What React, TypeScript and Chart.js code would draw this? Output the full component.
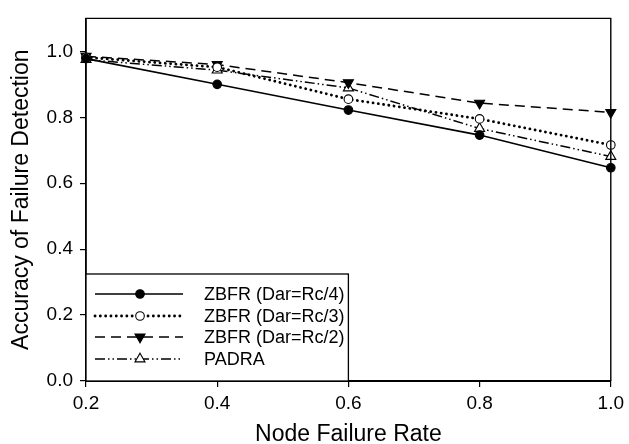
import React, { useEffect, useRef } from "react";
import { Chart, registerables } from "chart.js";

Chart.register(...registerables);

const xValues = [0.2, 0.4, 0.6, 0.8, 1.0];
const zbfrRc4 = [0.978, 0.9, 0.822, 0.746, 0.647];
const zbfrRc3 = [0.982, 0.952, 0.855, 0.795, 0.716];
const zbfrRc2 = [0.985, 0.96, 0.905, 0.843, 0.815];
const padra = [0.975, 0.943, 0.889, 0.766, 0.681];
const yTicks = [0, 0.2, 0.4, 0.6, 0.8, 1.0];
const seriesLabels = ["ZBFR (Dar=Rc/4)", "ZBFR (Dar=Rc/3)", "ZBFR (Dar=Rc/2)", "PADRA"];
const xTitle = "Node Failure Rate";
const yTitle = "Accuracy of Failure Detection";

const FONT = "'Liberation Sans', Arial, Helvetica, sans-serif";

type Style = {
  dash: number[];
  width: number;
  cap: CanvasLineCap;
  marker: "circle" | "triangle";
  rotation: number;
  radius: number;
  fill: string;
};

const styles: Style[] = [
  { dash: [], width: 1.6, cap: "butt", marker: "circle", rotation: 0, radius: 4.3, fill: "#000" },
  { dash: [0.1, 5.2], width: 2.8, cap: "round", marker: "circle", rotation: 0, radius: 4.3, fill: "#fff" },
  { dash: [10, 6], width: 1.5, cap: "butt", marker: "triangle", rotation: 180, radius: 5.8, fill: "#000" },
  { dash: [10, 3, 1.5, 3, 1.5, 3], width: 1.5, cap: "butt", marker: "triangle", rotation: 0, radius: 5.8, fill: "#fff" },
];

const seriesValues = [zbfrRc4, zbfrRc3, zbfrRc2, padra];

function drawMarker(ctx: CanvasRenderingContext2D, s: Style, x: number, y: number) {
  ctx.save();
  ctx.setLineDash([]);
  ctx.lineWidth = 1.1;
  ctx.strokeStyle = "#000";
  ctx.fillStyle = s.fill;
  ctx.beginPath();
  if (s.marker === "circle") {
    ctx.arc(x, y, s.radius, 0, Math.PI * 2);
  } else {
    let rad = (s.rotation * Math.PI) / 180;
    for (let i = 0; i < 3; i++) {
      const px = x + Math.sin(rad) * s.radius;
      const py = y - Math.cos(rad) * s.radius;
      if (i === 0) ctx.moveTo(px, py);
      else ctx.lineTo(px, py);
      rad += (2 * Math.PI) / 3;
    }
    ctx.closePath();
  }
  ctx.fill();
  ctx.stroke();
  ctx.restore();
}

const framePlugin = {
  id: "frameAndLegend",
  afterDraw(chart: any) {
    const { ctx, chartArea } = chart;
    const { left, right, top, bottom } = chartArea;
    ctx.save();
    ctx.strokeStyle = "#000";
    ctx.lineWidth = 1.4;
    ctx.setLineDash([]);
    ctx.beginPath();
    ctx.moveTo(left, bottom);
    ctx.lineTo(left, top);
    ctx.lineTo(right, top);
    ctx.lineTo(right, bottom);
    ctx.stroke();

    // legend box
    const boxRight = chart.scales.x.getPixelForValue(0.6);
    const boxTop = bottom - 107;
    ctx.fillStyle = "#fff";
    ctx.fillRect(left, boxTop, boxRight - left, bottom - boxTop);
    ctx.lineWidth = 1.3;
    ctx.strokeRect(left, boxTop, boxRight - left, bottom - boxTop);

    const rowYs = [bottom - 87, bottom - 65, bottom - 44, bottom - 22];
    ctx.font = `18px ${FONT}`;
    ctx.textBaseline = "middle";
    ctx.textAlign = "left";
    styles.forEach((s, i) => {
      const y = rowYs[i];
      ctx.save();
      ctx.strokeStyle = "#000";
      ctx.lineWidth = s.width;
      ctx.lineCap = s.cap;
      ctx.setLineDash(s.dash);
      ctx.beginPath();
      ctx.moveTo(left + 9, y);
      ctx.lineTo(left + 97, y);
      ctx.stroke();
      ctx.restore();
      drawMarker(ctx, s, left + 54, y);
      ctx.fillStyle = "#000";
      ctx.fillText(seriesLabels[i], left + 118, y + 1);
    });
    ctx.restore();
  },
};

export default function App() {
  const ref = useRef<HTMLCanvasElement>(null);
  useEffect(() => {
    if (!ref.current) return;
    const datasets = seriesValues.map((vals, i) => {
      const s = styles[i];
      return {
        label: seriesLabels[i],
        data: xValues.map((x, j) => ({ x, y: vals[j] })),
        borderColor: "#000",
        backgroundColor: s.fill,
        borderWidth: s.width,
        borderDash: s.dash,
        borderCapStyle: s.cap,
        pointStyle: s.marker,
        pointRotation: s.rotation,
        pointRadius: s.radius,
        pointBorderWidth: 1.1,
        pointBorderColor: "#000",
        pointBackgroundColor: s.fill,
        tension: 0,
        clip: false as any,
      };
    });
    const chart = new Chart(ref.current, {
      type: "line",
      data: { datasets },
      options: {
        animation: false,
        responsive: true,
        maintainAspectRatio: false,
        layout: { padding: { top: 12, right: 15, left: 0, bottom: 0 } },
        plugins: { legend: { display: false }, tooltip: { enabled: false } },
        scales: {
          x: {
            type: "linear",
            min: 0.2,
            max: 1.0,
            afterBuildTicks: (scale: any) => {
              scale.ticks = xValues.map((v) => ({ value: v }));
            },
            afterFit: (scale: any) => {
              scale.height = 63;
            },
            ticks: {
              color: "#000",
              font: { family: FONT, size: 19 },
              padding: 5,
              maxRotation: 0,
              callback: (v: any) => Number(v).toFixed(1),
            },
            grid: { drawOnChartArea: false, drawTicks: true, tickLength: 6, color: "#000", lineWidth: 1.2 },
            border: { display: true, color: "#000", width: 2 },
            title: {
              display: true,
              text: xTitle,
              color: "#000",
              font: { family: FONT, size: 23, lineHeight: 1.2 },
              padding: { top: 0, bottom: -4 },
            },
          },
          y: {
            type: "linear",
            min: 0,
            max: 1.1,
            afterBuildTicks: (scale: any) => {
              scale.ticks = yTicks.map((v) => ({ value: v }));
            },
            afterFit: (scale: any) => {
              scale.width = 86;
            },
            ticks: {
              color: "#000",
              font: { family: FONT, size: 19 },
              padding: 7,
              callback: (v: any) => Number(v).toFixed(1),
            },
            grid: { drawOnChartArea: false, drawTicks: true, tickLength: 6, color: "#000", lineWidth: 1.2 },
            border: { display: true, color: "#000", width: 1.4 },
            title: {
              display: true,
              text: yTitle,
              color: "#000",
              font: { family: FONT, size: 23, lineHeight: 1.2 },
              padding: { top: 8, bottom: 0 },
            },
          },
        },
      },
      plugins: [framePlugin],
    });
    return () => chart.destroy();
  }, []);
  return (
    <div style={{ position: "fixed", left: 0, top: 0, width: 629, height: 444, background: "#fff" }}>
      <canvas ref={ref} />
    </div>
  );
}
